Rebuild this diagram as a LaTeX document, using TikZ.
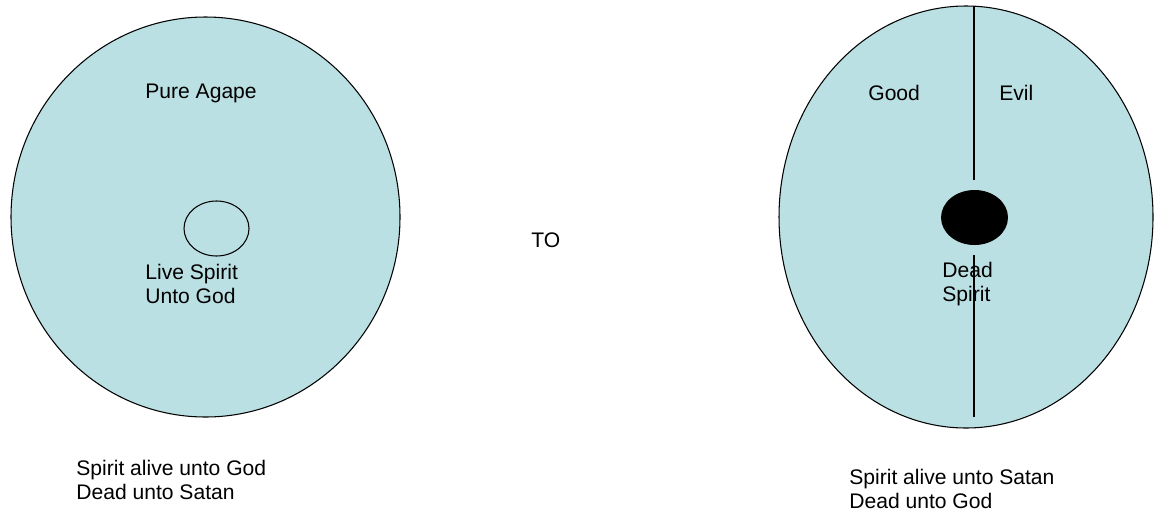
\documentclass[tikz,border=0pt]{standalone}
\usepackage{fontspec}
\setmainfont{Liberation Sans}
\usepackage{xcolor}
\definecolor{soulblue}{RGB}{187,224,227}

\begin{document}
\begin{tikzpicture}[x=0.02cm,y=-0.02cm,
    note/.style={anchor=west,inner sep=0pt,align=left,font=\fontsize{12}{13.7}\selectfont},
    soul/.style={draw=black,fill=soulblue,line width=0.6pt}]

	\useasboundingbox (0,0) rectangle (1155,514);

	% Left soul
	\draw[soul] (205.5,217) ellipse [x radius=194.5, y radius=200];
	\draw[line width=0.6pt] (216.5,228.5) ellipse [x radius=32.5, y radius=27.5];
	\node[note] (agape) at (145,93) {Pure Agape};
	\node[note] (live) at (145,283.5) {Live Spirit\\Unto God};

	% Middle
	\node[note] (to) at (531,240) {TO};

	% Right soul
	\draw[soul] (966,217) ellipse [x radius=187, y radius=211];
	\draw[line width=0.6pt] (974,6) -- (974,180);
	\draw[line width=0.6pt] (974,255) -- (974,417);
	\fill[black] (974.5,217.5) ellipse [x radius=33.5, y radius=27.5];
	\node[note] (good) at (868,93) {Good};
	\node[note] (evil) at (999,93) {Evil};
	\node[note] (dead) at (942,284.5) {Dead\\Spirit};

	% Captions
	\node[note] (leftcap) at (76,480) {Spirit alive unto God\\Dead unto Satan};
	\node[note] (rightcap) at (849,488.5) {Spirit alive unto Satan\\Dead unto God};

\end{tikzpicture}
\end{document}
